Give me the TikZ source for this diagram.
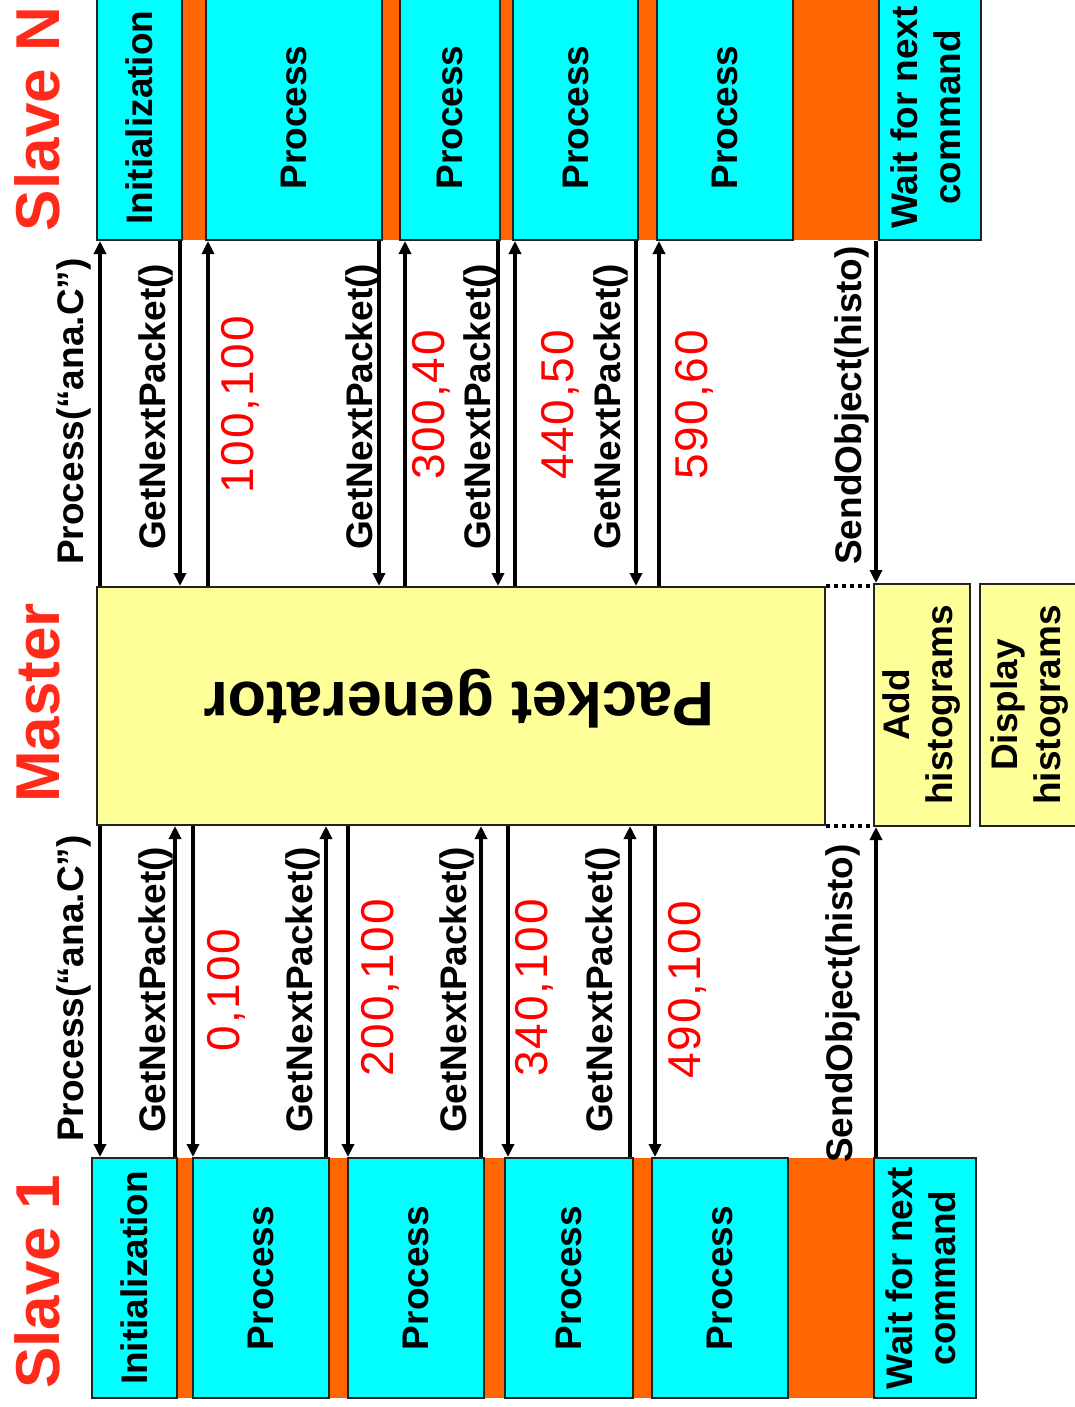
\documentclass[tikz,border=0pt]{standalone}
\usepackage{fontspec}
\setmainfont{Liberation Sans}
\newfontfamily\numfont[LetterSpace=4]{Liberation Sans}
\usetikzlibrary{arrows.meta}
\definecolor{cyanbox}{HTML}{00FFFF}
\definecolor{orangeband}{HTML}{FF6600}
\definecolor{paleyellow}{HTML}{FFFF99}
\definecolor{titlered}{HTML}{FF2A1A}
\definecolor{numred}{HTML}{FF0000}
\definecolor{edgegray}{HTML}{222222}
\newcommand\vconn[3]{\draw[arr] (#2 -| #1,0) -- (#3 -| #1,0);}
\newcommand\twolines[2]{\rotatebox{90}{\begin{tabular}{@{}c@{}}#1\\#2\end{tabular}}}
\begin{document}
\begin{tikzpicture}[x=1pt,y=-1pt,
  stbox/.style={draw=edgegray, line width=2pt, inner sep=0pt, font=\bfseries\fontsize{37}{43}\selectfont},
  cbox/.style={stbox, fill=cyanbox},
  ybox/.style={stbox, fill=paleyellow},
  band/.style={fill=orangeband, draw=none},
  arr/.style={line width=4.8pt, -{Triangle[width=12pt,length=13pt]}},
  lbl/.style={rotate=90, anchor=base west, inner sep=0pt, font=\bfseries\fontsize{37}{43}\selectfont},
  numlbl/.style={rotate=90, anchor=base, inner sep=0pt, text=numred, font=\numfont\fontsize{46}{50}\selectfont},
  ttl/.style={rotate=90, anchor=base, inner sep=0pt, text=titlered, font=\bfseries\fontsize{62}{70}\selectfont},
  dotline/.style={line width=4pt, dash pattern=on 4pt off 4pt}
]
\useasboundingbox (0,0) rectangle (1075,1407);
\fill[white] (0,0) rectangle (1075,1407);
\clip (0,0) rectangle (1075,1407);

% titles
\node[ttl] (tN) at (59,119) {Slave N};
\node[ttl] (tM) at (59,703) {Master};
\node[ttl] (t1) at (59,1282) {Slave 1};

% orange bands
\fill[band] (182,-5) rectangle (879,240);
\fill[band] (177,1158) rectangle (874,1398);

% Slave N boxes
\node[cbox, minimum width=85pt, minimum height=245pt] (sNinit) at (139.5,117.5) {\rotatebox{90}{Initialization}};
\node[cbox, minimum width=176pt, minimum height=245pt] (sNp1) at (294,117.5) {\rotatebox{90}{Process}};
\node[cbox, minimum width=100pt, minimum height=245pt] (sNp2) at (450,117.5) {\rotatebox{90}{Process}};
\node[cbox, minimum width=125pt, minimum height=245pt] (sNp3) at (575.5,117.5) {\rotatebox{90}{Process}};
\node[cbox, minimum width=136pt, minimum height=245pt] (sNp4) at (725,117.5) {\rotatebox{90}{Process}};
\node[cbox, minimum width=102pt, minimum height=245pt] (sNwait) at (930,117.5) {\twolines{Wait for next}{command}};

% Slave 1 boxes
\node[cbox, minimum width=85pt, minimum height=240pt] (s1init) at (134.5,1278) {\rotatebox{90}{Initialization}};
\node[cbox, minimum width=136pt, minimum height=240pt] (s1p1) at (261,1278) {\rotatebox{90}{Process}};
\node[cbox, minimum width=136pt, minimum height=240pt] (s1p2) at (416,1278) {\rotatebox{90}{Process}};
\node[cbox, minimum width=128pt, minimum height=240pt] (s1p3) at (569,1278) {\rotatebox{90}{Process}};
\node[cbox, minimum width=136pt, minimum height=240pt] (s1p4) at (720,1278) {\rotatebox{90}{Process}};
\node[cbox, minimum width=102pt, minimum height=240pt] (s1wait) at (925,1278) {\twolines{Wait for next}{command}};

% Master boxes
\node[ybox, minimum width=728pt, minimum height=238pt] (pg) at (461,706) {};
\node[rotate=180, anchor=base, inner sep=0pt, font=\bfseries\fontsize{63}{70}\selectfont] (pgtext) at (459,682) {Packet generator};
\node[ybox, minimum width=96pt, minimum height=242pt] (add) at (922,705) {\twolines{Add}{histograms}};
\node[ybox, minimum width=100pt, minimum height=242pt] (disp) at (1030,705) {\twolines{Display}{histograms}};

\draw[dotline] (pg.north east) -- (pg.north east -| add.west);
\draw[dotline] (pg.south east) -- (pg.south east -| add.west);

% lower connectors (Master <-> Slave 1)
\vconn{100}{pg.south}{s1init.north}
\vconn{175}{s1init.north}{pg.south}
\vconn{193}{pg.south}{s1p1.north}
\vconn{326}{s1p1.north}{pg.south}
\vconn{348}{pg.south}{s1p2.north}
\vconn{481}{s1p2.north}{pg.south}
\vconn{508}{pg.south}{s1p3.north}
\vconn{630}{s1p3.north}{pg.south}
\vconn{655}{pg.south}{s1p4.north}
\vconn{876}{s1wait.north}{add.south}

% upper connectors (Master <-> Slave N)
\vconn{100}{pg.north}{sNinit.south}
\vconn{180}{sNinit.south}{pg.north}
\vconn{208}{pg.north}{sNp1.south}
\vconn{379}{sNp1.south}{pg.north}
\vconn{405}{pg.north}{sNp2.south}
\vconn{498}{sNp2.south}{pg.north}
\vconn{515}{pg.north}{sNp3.south}
\vconn{636}{sNp3.south}{pg.north}
\vconn{659}{pg.north}{sNp4.south}
\vconn{876}{sNwait.south}{add.north}

% lower labels
\node[lbl] (l1) at (83,1142) {Process(“ana.C”)};
\node[lbl] (l2) at (165,1133) {GetNextPacket()};
\node[lbl] (l3) at (312,1133) {GetNextPacket()};
\node[lbl] (l4) at (466,1133) {GetNextPacket()};
\node[lbl] (l5) at (612,1133) {GetNextPacket()};
\node[lbl] (l6) at (852,1163) {SendObject(histo)};
\node[numlbl] (n1) at (239,990) {0,100};
\node[numlbl] (n2) at (393,988) {200,100};
\node[numlbl] (n3) at (547,988) {340,100};
\node[numlbl] (n4) at (700,990) {490,100};

% upper labels
\node[lbl] (u1) at (83,565) {Process(“ana.C”)};
\node[lbl] (u2) at (165,550) {GetNextPacket()};
\node[lbl] (u3) at (372,550) {GetNextPacket()};
\node[lbl] (u4) at (490,550) {GetNextPacket()};
\node[lbl] (u5) at (620,550) {GetNextPacket()};
\node[lbl] (u6) at (861,565) {SendObject(histo)};
\node[numlbl] (m1) at (253,405) {100,100};
\node[numlbl] (m2) at (444,405) {300,40};
\node[numlbl] (m3) at (573,405) {440,50};
\node[numlbl] (m4) at (707,405) {590,60};
\end{tikzpicture}
\end{document}
